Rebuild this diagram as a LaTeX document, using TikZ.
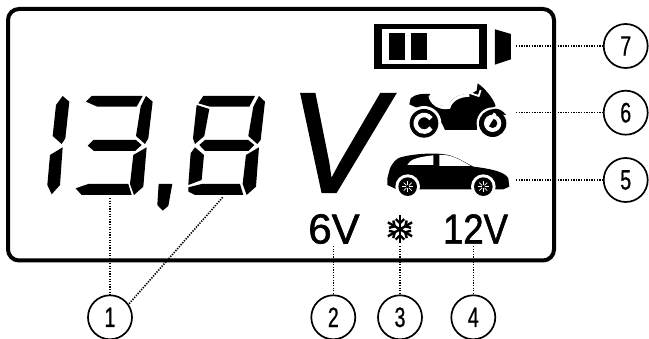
\documentclass[tikz,border=0pt]{standalone}
\usepackage{fontspec}
\setmainfont{Liberation Sans}
\newfontfamily\bigvfont[FakeBold=1.2]{Liberation Sans Italic}
\newfontfamily\lcdfont[FakeBold=1.4]{Liberation Sans}
\newfontfamily\numfont[FakeBold=0.8]{Liberation Sans}
\tikzset{
  seg/.style={fill=black,draw=none},
  frameline/.style={draw=black,line width=4pt,rounded corners=11pt},
  callout/.style={circle,draw=black,line width=1.7pt,minimum size=44pt,inner sep=0pt,fill=white,font=\fontsize{28}{28}\numfont},
  leader/.style={draw=black,line width=1.6pt,dash pattern=on 1.3pt off 1.3pt},
  zoomone/.style={shift={(20,70)},x=0.3333pt,y=-0.3333pt},
  zoomtwo/.style={shift={(280,0)},x=0.3333pt,y=-0.3333pt},
  zoomfour/.style={shift={(380,70)},x=0.3333pt,y=-0.3333pt},
  lcdtext/.style={inner sep=0pt,font=\fontsize{42}{42}\lcdfont},
  flake/.style={draw=black,line width=2.4pt}
}
\begin{document}
\begin{tikzpicture}[x=1pt,y=-1pt]
\useasboundingbox[fill=white] (0,0) rectangle (649,339);
% digits
\begin{scope}[zoomone]
% 1
\fill[seg] (128,78)--(148,95)--(136,205)--(125,222)--(98,198)--(108,105)--cycle;
\fill[seg] (128,232)--(120,345)--(95,373)--(82,345)--(90,255)--cycle;
% 3
\fill[seg] (215,78)--(368,78)--(350,110)--(232,110)--(198,95)--cycle;
\fill[seg] (378,78)--(398,95)--(385,205)--(375,222)--(348,198)--(362,110)--cycle;
\fill[seg] (220,210)--(348,210)--(365,225)--(345,243)--(222,243)--(203,227)--cycle;
\fill[seg] (380,232)--(370,350)--(342,375)--(330,342)--(340,255)--cycle;
\fill[seg] (205,342)--(325,342)--(335,375)--(185,375)--(167,355)--cycle;
% comma
\fill[seg] (416,342)--(457,342)--(445,408)--(428,422)--(412,405)--cycle;
% 8
\fill[seg] (550,78)--(705,78)--(688,110)--(570,110)--(535,100)--cycle;
\fill[seg] (530,105)--(568,117)--(553,198)--(525,222)--(519,205)--cycle;
\fill[seg] (555,210)--(685,210)--(703,225)--(685,243)--(555,243)--(538,225)--cycle;
\fill[seg] (525,232)--(552,255)--(545,330)--(505,345)--(512,250)--cycle;
\fill[seg] (545,342)--(660,342)--(670,375)--(525,375)--(505,365)--(505,352)--cycle;
\fill[seg] (717,78)--(735,95)--(722,210)--(712,222)--(685,198)--(700,110)--cycle;
\fill[seg] (717,232)--(708,350)--(680,375)--(668,342)--(678,255)--cycle;
\end{scope}
% frame
\draw[frameline] (8,9) rectangle (554,260.5);
% big V and labels
\node[inner sep=0pt,font=\fontsize{143}{143}\bigvfont] (bigv) at (336.5,143) {V};
\node[lcdtext] (six) at (334,229) {6V};
\node[lcdtext] (twelve) at (475.5,229) {\scalebox{0.87}[1]{12V}};
% battery
\begin{scope}[zoomtwo]
\fill[seg] (282,72) rectangle (620,208);
\fill[white] (307,87) rectangle (597,192);
\fill[seg] (328,99) rectangle (375,180);
\fill[seg] (393,99) rectangle (441,180);
\fill[seg] (645,88)--(693,102)--(693,178)--(645,194)--cycle;
\end{scope}
% motorcycle and car
\begin{scope}[zoomfour]
\fill[seg] (88,103)--(92,85) .. controls (105,72) and (130,70) .. (150,72)
  .. controls (150,95) and (175,112) .. (205,108) .. controls (212,85) and (235,72) .. (272,72)
  --(290,62)--(293,40) .. controls (315,55) and (340,85) .. (347,108)
  --(325,122) .. controls (305,135) and (295,150) .. (290,180)--(195,180)
  .. controls (180,140) and (150,118) .. (108,112)--cycle;
\draw[white,line width=3pt] (150,76) .. controls (152,100) and (180,118) .. (207,112) .. controls (214,88) and (240,76) .. (268,76);
\draw[white,line width=1.8pt] (272,70)--(296,78)--(302,60);
\fill[white] (132,160) circle (52);
\fill[seg] (132,160) circle (43);
\draw[white,line width=4.5pt] (153,146) arc (-34:-326:25);
\fill[white] (338,160) circle (48);
\fill[seg] (338,160) circle (41);
\fill[white] (338,160) circle (26);
\fill[seg] (338,160) circle (14);
\draw[white,line width=3pt] (322,168)--(345,130);
\fill[seg] (320,128) .. controls (335,112) and (360,110) .. (378,135) -- (360,133) .. controls (345,122) and (335,125) .. (328,135) -- cycle;
% car
\fill[seg] (22,325)--(30,295) .. controls (40,275) and (50,265) .. (62,262)
  .. controls (105,250) and (170,248) .. (200,254)
  .. controls (230,260) and (255,278) .. (280,290)
  .. controls (330,296) and (375,305) .. (385,325)--(388,350)--(370,358)--(50,358)--(22,345)--cycle;
\fill[white] (82,285) .. controls (90,270) and (105,262) .. (160,256)--(160,285)--cycle;
\fill[white] (178,255) .. controls (215,252) and (240,270) .. (272,288)--(178,288)--cycle;
\foreach \cx in {83,310}{
  \fill[white] (\cx,350) circle (37);
  \fill[seg] (\cx,350) circle (28);
  \foreach \a in {0,45,...,315}{
    \draw[white,line width=0.7pt] (\cx,350) ++(\a:5) -- ++(\a:12);
  }
}
\end{scope}
% snowflake
\coordinate (sf) at (400,229.3);
\foreach \a in {30,90,...,330}{
  \draw[flake] (sf) -- ++(\a:14);
  \draw[flake] (sf) ++(\a:6) -- ++(\a+45:6);
  \draw[flake] (sf) ++(\a:6) -- ++(\a-45:6);
}
% callouts
\node[callout] (c1) at (110,317.3) {\scalebox{0.7}[1]{1}};
\node[callout] (c2) at (333.3,317.3) {\scalebox{0.7}[1]{2}};
\node[callout] (c3) at (400,317.3) {\scalebox{0.7}[1]{3}};
\node[callout] (c4) at (473.3,317.3) {\scalebox{0.7}[1]{4}};
\node[callout] (c5) at (625.7,180) {\scalebox{0.7}[1]{5}};
\node[callout] (c6) at (625.7,112.7) {\scalebox{0.7}[1]{6}};
\node[callout] (c7) at (625.7,46) {\scalebox{0.7}[1]{7}};
% free ends
\coordinate (p1a) at (110,198);
\coordinate (p1b) at (222.7,197.3);
\coordinate (p2) at (333.3,246);
\coordinate (p3) at (400,246);
\coordinate (p4) at (473.3,246);
\coordinate (p5) at (516,180);
\coordinate (p6) at (516,112.7);
\coordinate (p7) at (516,46);
\draw[leader] (p1a) -- (c1.north);
\draw[leader] (p1b) -- (c1.35);
\draw[leader] (p2) -- (c2.north);
\draw[leader] (p3) -- (c3.north);
\draw[leader] (p4) -- (c4.north);
\draw[leader] (p5) -- (c5.west);
\draw[leader] (p6) -- (c6.west);
\draw[leader] (p7) -- (c7.west);
\end{tikzpicture}
\end{document}
